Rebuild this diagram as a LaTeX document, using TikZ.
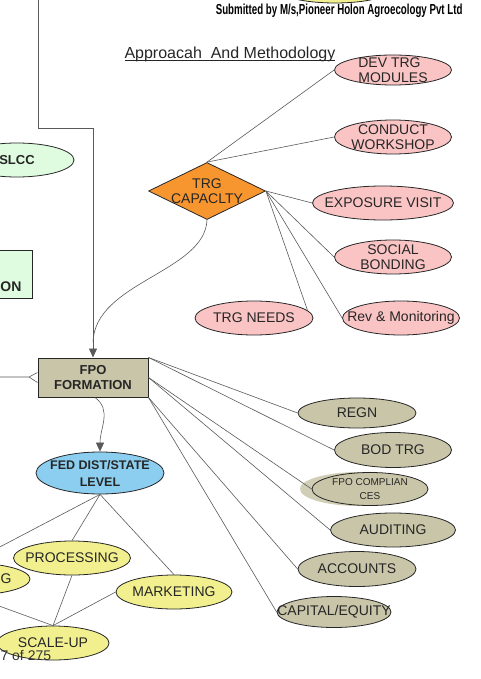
\documentclass[tikz,border=0pt]{standalone}
\usepackage{fontspec}
\usepackage{graphicx}
\setmainfont{Liberation Sans}
\usetikzlibrary{shapes.geometric,arrows.meta}
\definecolor{pinkfill}{RGB}{250,196,196}
\definecolor{khakifill}{RGB}{201,197,169}
\definecolor{lemonfill}{RGB}{242,240,142}
\definecolor{bluefill}{RGB}{140,206,240}
\definecolor{mintfill}{RGB}{224,252,224}
\definecolor{orangefill}{RGB}{247,150,47}
\begin{document}
\begin{tikzpicture}[x=1pt,y=-1pt,
  link/.style={draw=black!65,line width=0.6pt},
  tip/.style={-{Triangle[length=9pt,width=8pt]}},
  blob/.style={ellipse,draw=black!85,line width=0.8pt,inner xsep=-20pt,inner ysep=-6pt,align=center,
    text=black!85,font=\fontsize{14}{14.5}\selectfont},
  pinkblob/.style={blob,fill=pinkfill},
  khakiblob/.style={blob,fill=khakifill},
  lemonblob/.style={blob,fill=lemonfill}]
\useasboundingbox (0,0) rectangle (480,679);
\clip (0,0) rectangle (480,679);
% page head
\node[lemonblob,minimum width=110pt,minimum height=26pt] (topblob) at (335,-10) {};
\node[anchor=base east,font=\bfseries\fontsize{14.5}{16}\selectfont] (hdr) at (466,15)
  {\scalebox{0.67}[1]{Submitted by M/s,Pioneer Holon Agroecology Pvt Ltd}};
\node[anchor=base west,font=\fontsize{16}{18}\selectfont,text=black!85] (title) at (121,59)
  {\underline{\smash{Approacah\ \ And Methodology}}};
% left part of the page
\node[blob,fill=mintfill,minimum width=114pt,minimum height=34pt,font=\bfseries\fontsize{13}{15}\selectfont] (slcc) at (17,160) {SLCC};
\node[draw=black!85,line width=0.8pt,fill=mintfill,minimum width=60pt,minimum height=48pt,inner sep=0pt] (oldbox) at (2,274) {};
\node[font=\bfseries\fontsize{14}{16}\selectfont,text=black!85] (oldtxt) at (11,287) {ON};
% training
\node[diamond,draw=black!85,line width=0.8pt,fill=orangefill,minimum width=117pt,minimum height=57pt,inner sep=0pt,
  label={[align=center,text=black!85,font=\fontsize{14}{14.5}\selectfont]center:TRG\\CAPACLTY}] (cap) at (207,191) {};
\node[pinkblob,minimum width=117pt,minimum height=30pt,align=left] (dev) at (393,70) {DEV TRG\\MODULES};
\node[pinkblob,minimum width=117pt,minimum height=34pt] (cond) at (393,137) {CONDUCT\\WORKSHOP};
\node[pinkblob,minimum width=141pt,minimum height=34pt] (expo) at (383,203) {EXPOSURE VISIT};
\node[pinkblob,minimum width=117pt,minimum height=34pt] (soc) at (393,257) {SOCIAL\\BONDING};
\node[pinkblob,minimum width=118pt,minimum height=34pt] (needs) at (254,318) {TRG NEEDS};
\node[pinkblob,minimum width=117pt,minimum height=34pt] (rev) at (401,318) {Rev \& Monitoring};
% fpo
\node[draw=black!85,line width=1pt,fill=khakifill,minimum width=110pt,minimum height=39pt,inner sep=0pt,
  align=center,text=black!85,font=\bfseries\fontsize{13}{15}\selectfont] (fpo) at (93,377.5) {FPO\\FORMATION};
\node[khakiblob,minimum width=118pt,minimum height=30pt] (regn) at (357,413) {REGN};
\node[khakiblob,minimum width=117pt,minimum height=35pt] (bod) at (393,450) {BOD TRG};
\node[ellipse,fill=khakifill!85,minimum width=118pt,minimum height=34pt] (shade) at (359,489) {};
\node[khakiblob,minimum width=116pt,minimum height=33pt,font=\fontsize{10}{14}\selectfont] (compl) at (370,489) {FPO COMPLIAN\\CES};
\node[khakiblob,minimum width=125pt,minimum height=34pt] (aud) at (393,530) {AUDITING};
\node[khakiblob,minimum width=118pt,minimum height=35pt] (acc) at (357,569) {ACCOUNTS};
\node[khakiblob,minimum width=114pt,minimum height=31pt] (capi) at (334,612) {CAPITAL/EQUITY};
% federation
\node[blob,fill=bluefill,minimum width=128pt,minimum height=42pt,font=\bfseries\fontsize{12.5}{17}\selectfont] (fed) at (100,473) {FED DIST/STATE\\LEVEL};
\node[lemonblob,minimum width=117pt,minimum height=34pt] (proc) at (72,558) {PROCESSING};
\node[lemonblob,minimum width=120pt,minimum height=32pt] (gg) at (-30,579) {};
\node[font=\fontsize{14}{16}\selectfont,text=black!85] (ggtxt) at (6,579) {G};
\node[lemonblob,minimum width=116pt,minimum height=34pt] (mkt) at (174,592) {MARKETING};
\node[lemonblob,minimum width=112pt,minimum height=34pt] (scale) at (53,643) {SCALE-UP};
\node[anchor=base west,font=\fontsize{14}{16}\selectfont,text=black!80] (pg) at (-3,660) {7 of 275};
% connectors
\coordinate (topin) at (38,0);
\coordinate (elbow) at (93,128);
\coordinate (join) at (93,342);
\coordinate (leftin) at (0,377);
\coordinate (fork) at (29,377);
\draw[link,tip] (topin) |- (elbow) -- (fpo.north);
\draw[link] (cap.south) .. controls (205,272) and (95,282) .. (join);
\draw[link] (leftin) -- (fork) -- ([yshift=5pt]fpo.west) (fork) -- ([yshift=-5pt]fpo.west);
\draw[link] (cap.north) -- (dev.west);
\draw[link] (cap.north) -- (cond.west);
\draw[link] (cap.east) -- (expo.west);
\draw[link] (cap.east) -- (soc.west);
\draw[link] (cap.east) -- (needs.8);
\draw[link] (cap.east) -- (rev.west);
\draw[link] (fpo.north east) -- (regn.west);
\draw[link] (fpo.north east) -- (bod.west);
\draw[link] (fpo.east) -- (compl.west);
\draw[link] (fpo.east) -- (aud.west);
\draw[link] (fpo.south east) -- (acc.west);
\draw[link] (fpo.south east) -- (capi.west);
\draw[link,tip] ([xshift=2pt]fpo.south) .. controls (112,410) and (100,428) .. (fed.north);
\draw[link] (fed.south) -- (gg.north);
\draw[link] (fed.south) -- (proc.north);
\draw[link] (fed.south) -- (mkt.north);
\draw[link] (proc.south) -- (scale.north);
\draw[link] (mkt.west) -- (scale.north);
\draw[link] (gg.south) -- (scale.north);
\end{tikzpicture}
\end{document}
